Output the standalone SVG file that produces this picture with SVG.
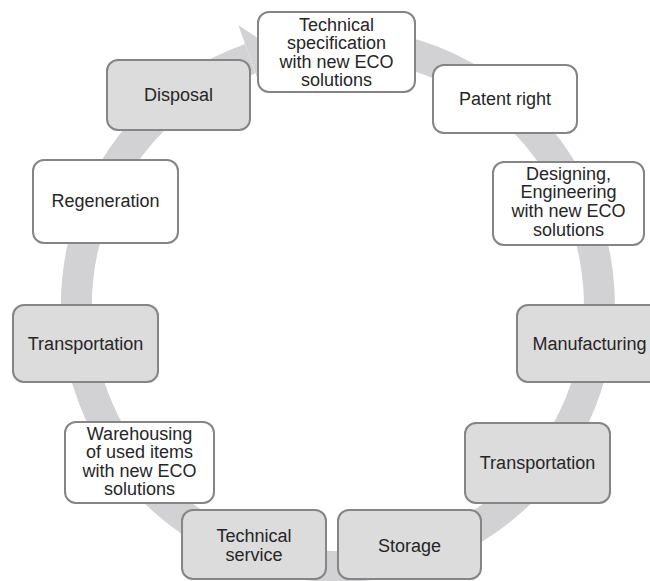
<svg xmlns="http://www.w3.org/2000/svg" width="650" height="581" viewBox="0 0 650 581">
  <style>
    .box { stroke: #858585; stroke-width: 2; }
    .light { fill: #ffffff; }
    .shade { fill: #dcdcdd; }
    .lbl { font-family: "Liberation Sans", Arial, sans-serif; font-size: 18px; fill: #262626; text-anchor: middle; }
    .ring { fill: #d2d2d4; }
  </style>
  <rect width="650" height="581" fill="#ffffff"/>

  <!-- circular arrow behind the nodes (centre 338,305; radii 246..277) -->
  <g id="connectors">
    <path class="ring" d="M299.44,30.7 A277,277 0 1 1 245.07,44.03 L255.47,73.24 A246,246 0 1 0 303.76,61.4 Z"/>
    <polygon class="ring" points="238.4,25.2 277,50.7 260.2,86.4"/>
  </g>

  <g id="node-spec">
    <rect class="box light" x="258" y="12" width="157" height="80" rx="11"/>
    <text class="lbl" x="336.5" y="30.7">Technical</text>
    <text class="lbl" x="336.5" y="49.1">specification</text>
    <text class="lbl" x="336.5" y="67.5">with new ECO</text>
    <text class="lbl" x="336.5" y="85.9">solutions</text>
  </g>

  <g id="node-patent">
    <rect class="box light" x="433" y="65" width="144" height="68" rx="11"/>
    <text class="lbl" x="505" y="105">Patent right</text>
  </g>

  <g id="node-design">
    <rect class="box light" x="493" y="162" width="151" height="83" rx="11"/>
    <text class="lbl" x="568.5" y="179.5">Designing,</text>
    <text class="lbl" x="568.5" y="198.3">Engineering</text>
    <text class="lbl" x="568.5" y="217.1">with new ECO</text>
    <text class="lbl" x="568.5" y="235.9">solutions</text>
  </g>

  <g id="node-manufacturing">
    <rect class="box shade" x="517" y="305" width="145" height="77" rx="11"/>
    <text class="lbl" x="589.5" y="350">Manufacturing</text>
  </g>

  <g id="node-transport-out">
    <rect class="box shade" x="465" y="423" width="145" height="80" rx="11"/>
    <text class="lbl" x="537.5" y="469">Transportation</text>
  </g>

  <g id="node-storage">
    <rect class="box shade" x="338" y="510" width="143" height="69" rx="11"/>
    <text class="lbl" x="409.5" y="552">Storage</text>
  </g>

  <g id="node-service">
    <rect class="box shade" x="182" y="510" width="144" height="69" rx="11"/>
    <text class="lbl" x="254" y="541.7">Technical</text>
    <text class="lbl" x="254" y="560.5">service</text>
  </g>

  <g id="node-warehousing">
    <rect class="box light" x="65" y="422" width="149" height="81" rx="11"/>
    <text class="lbl" x="139.5" y="440">Warehousing</text>
    <text class="lbl" x="139.5" y="458.4">of used items</text>
    <text class="lbl" x="139.5" y="476.8">with new ECO</text>
    <text class="lbl" x="139.5" y="495.2">solutions</text>
  </g>

  <g id="node-transport-back">
    <rect class="box shade" x="13" y="305" width="145" height="77" rx="11"/>
    <text class="lbl" x="85.5" y="350">Transportation</text>
  </g>

  <g id="node-regeneration">
    <rect class="box light" x="33" y="160" width="145" height="83" rx="11"/>
    <text class="lbl" x="105.5" y="206.7">Regeneration</text>
  </g>

  <g id="node-disposal">
    <rect class="box shade" x="107" y="60" width="143" height="70" rx="11"/>
    <text class="lbl" x="178.5" y="100.7">Disposal</text>
  </g>
</svg>
